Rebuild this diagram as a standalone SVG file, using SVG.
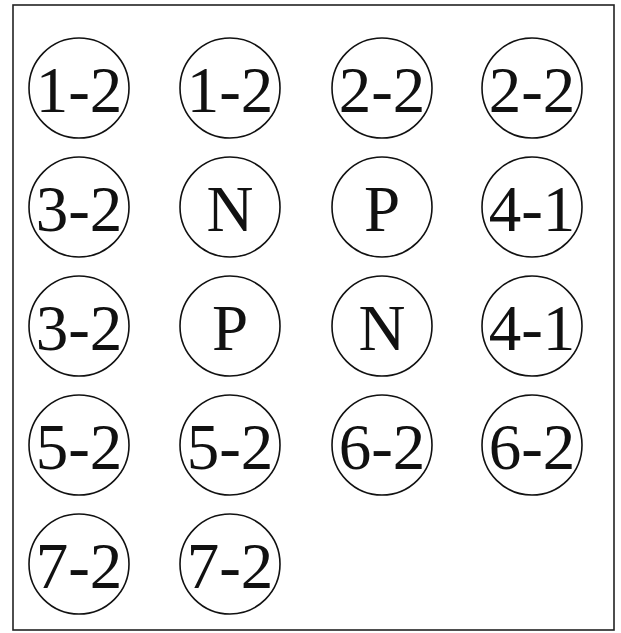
<svg xmlns="http://www.w3.org/2000/svg" width="621" height="633" viewBox="0 0 621 633">
<style>
.n circle{fill:#fff;stroke:#111;stroke-width:1.6}
.n text{font-family:"Liberation Serif","Times New Roman",serif;font-size:65px;fill:#111;text-anchor:middle}
</style>
<rect x="13" y="5" width="601" height="625" fill="#fff" stroke="#222" stroke-width="1.6"/>
<g id="n1" class="n"><circle cx="79" cy="88" r="50"/><text x="79" y="112">1-2</text></g>
<g id="n2" class="n"><circle cx="230" cy="88" r="50"/><text x="230" y="112">1-2</text></g>
<g id="n3" class="n"><circle cx="382" cy="88" r="50"/><text x="382" y="112">2-2</text></g>
<g id="n4" class="n"><circle cx="532" cy="88" r="50"/><text x="532" y="112">2-2</text></g>
<g id="n5" class="n"><circle cx="79" cy="207" r="50"/><text x="79" y="231">3-2</text></g>
<g id="n6" class="n"><circle cx="230" cy="207" r="50"/><text x="230" y="231">N</text></g>
<g id="n7" class="n"><circle cx="382" cy="207" r="50"/><text x="382" y="231">P</text></g>
<g id="n8" class="n"><circle cx="532" cy="207" r="50"/><text x="532" y="231">4-1</text></g>
<g id="n9" class="n"><circle cx="79" cy="326" r="50"/><text x="79" y="350">3-2</text></g>
<g id="n10" class="n"><circle cx="230" cy="326" r="50"/><text x="230" y="350">P</text></g>
<g id="n11" class="n"><circle cx="382" cy="326" r="50"/><text x="382" y="350">N</text></g>
<g id="n12" class="n"><circle cx="532" cy="326" r="50"/><text x="532" y="350">4-1</text></g>
<g id="n13" class="n"><circle cx="79" cy="445" r="50"/><text x="79" y="469">5-2</text></g>
<g id="n14" class="n"><circle cx="230" cy="445" r="50"/><text x="230" y="469">5-2</text></g>
<g id="n15" class="n"><circle cx="382" cy="445" r="50"/><text x="382" y="469">6-2</text></g>
<g id="n16" class="n"><circle cx="532" cy="445" r="50"/><text x="532" y="469">6-2</text></g>
<g id="n17" class="n"><circle cx="79" cy="564" r="50"/><text x="79" y="588">7-2</text></g>
<g id="n18" class="n"><circle cx="230" cy="564" r="50"/><text x="230" y="588">7-2</text></g>
<g id="connectors"></g>
</svg>
